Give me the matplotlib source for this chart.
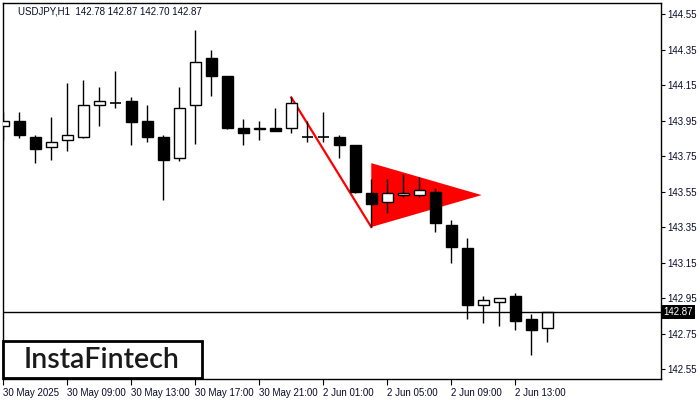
import matplotlib
matplotlib.use("Agg")
import matplotlib.pyplot as plt
from matplotlib.patches import Polygon, Rectangle

# hourly bars, 30 May 05:00 -> 2 Jun 15:00
opens  = [143.92, 143.95, 143.86, 143.80, 143.84, 143.86, 144.04, 144.05, 144.06, 143.95,
          143.86, 143.74, 144.04, 144.30, 144.20, 143.91, 143.90, 143.91, 143.91, 143.86,
          143.86, 143.86, 143.81, 143.54, 143.49, 143.53, 143.53, 143.55, 143.36, 143.23,
          142.91, 142.93, 142.96, 142.83, 142.78]
highs  = [144.00, 144.00, 143.87, 143.97, 144.16, 144.18, 144.14, 144.23, 144.08, 144.04,
          143.87, 144.14, 144.46, 144.35, 144.20, 143.96, 143.95, 144.02, 144.08, 143.95,
          144.00, 143.87, 143.81, 143.62, 143.62, 143.65, 143.63, 143.57, 143.39, 143.29,
          142.96, 142.95, 142.98, 142.86, 142.87]
lows   = [143.84, 143.85, 143.71, 143.73, 143.78, 143.85, 143.92, 144.02, 143.81, 143.83,
          143.50, 143.72, 143.82, 144.09, 143.90, 143.81, 143.84, 143.89, 143.88, 143.83,
          143.83, 143.74, 143.54, 143.35, 143.43, 143.52, 143.52, 143.32, 143.15, 142.83,
          142.81, 142.79, 142.77, 142.63, 142.70]
closes = [143.95, 143.87, 143.79, 143.83, 143.87, 144.04, 144.06, 144.05, 143.94, 143.86,
          143.73, 144.02, 144.28, 144.20, 143.91, 143.88, 143.91, 143.89, 144.05, 143.86,
          143.86, 143.81, 143.55, 143.48, 143.54, 143.54, 143.56, 143.37, 143.24, 142.91,
          142.94, 142.95, 142.82, 142.77, 142.87]

time_ticks = [0, 4, 8, 12, 16, 20, 24, 28, 32]
time_labels = ["30 May 2025", "30 May 09:00", "30 May 13:00", "30 May 17:00", "30 May 21:00",
               "2 Jun 01:00", "2 Jun 05:00", "2 Jun 09:00", "2 Jun 13:00"]
price_ticks = [144.55, 144.35, 144.15, 143.95, 143.75, 143.55, 143.35, 143.15, 142.95, 142.75, 142.55]

# bearish pennant
pole_x = [18, 23]
pole_y = [144.08, 143.35]
flag_x = [23, 23, 29.9]
flag_y = [143.71, 143.35, 143.53]

title = "USDJPY,H1  142.78 142.87 142.70 142.87"
txt_col = "#0a0a2a"
small = dict(family="Liberation Sans", size=7)

fig = plt.figure(figsize=(7, 4), dpi=100)
ax = fig.add_axes([2.5 / 700, 1 - 379.3 / 400, 658.2 / 700, 376.6 / 400])
ax.set_xlim(-0.05, 41.09)
ax.set_ylim(142.492, 144.614)

# pattern first, candles above it
ax.add_patch(Polygon(list(zip(flag_x, flag_y)), closed=True, facecolor="#ff0000",
                     edgecolor="none", zorder=1))
ax.plot(pole_x, pole_y, color="#ff0000", lw=1.6, zorder=1.5)

x = list(range(len(opens)))
ax.vlines(x, lows, highs, color="black", lw=1, zorder=2)
for i in x:
    o, c = opens[i], closes[i]
    fc = "white" if c > o else "black"
    if abs(c - o) < 0.005:
        ax.hlines(o, i - 0.34, i + 0.34, color="black", lw=1.2, zorder=3)
    else:
        ax.add_patch(Rectangle((i - 0.33, min(o, c)), 0.66, abs(c - o), facecolor=fc,
                               edgecolor="black", lw=1, zorder=3))

ax.axhline(closes[-1], color="black", lw=1, zorder=4)

for s in ax.spines.values():
    s.set_color("black")
    s.set_linewidth(1)

ax.yaxis.tick_right()
ax.set_yticks(price_ticks)
ax.set_yticklabels([f"{p:.2f}" for p in price_ticks], fontdict=small)
ax.tick_params(axis="y", direction="out", length=3, width=0.8, pad=2, labelcolor=txt_col)
ax.set_xticks(time_ticks)
ax.set_xticklabels(time_labels, ha="left", fontdict=small)
ax.tick_params(axis="x", direction="out", length=4, width=0.8, pad=2, labelcolor=txt_col)

# current price tag
ax.text(1.004, closes[-1], f"{closes[-1]:.2f}", transform=ax.get_yaxis_transform(),
        ha="left", va="center", color="white", clip_on=False, fontdict=small,
        bbox=dict(boxstyle="square,pad=0.2", facecolor="black", edgecolor="none"))

fig.text(18 / 700, 1 - 11 / 400, title, color=txt_col, va="center", fontdict=small)

# logo
fig.patches.append(Rectangle((3 / 700, 1 - 378.3 / 400), 199 / 700, 37.5 / 400,
                             transform=fig.transFigure, facecolor="white",
                             edgecolor="black", lw=2, zorder=10))
fig.text(102 / 700, 1 - 360 / 400, "InstaFintech", fontsize=20.5, fontfamily="Lato",
         fontweight="semibold", color="#1a1a1a", ha="center", va="center", zorder=11)

fig.savefig("out.png", dpi=100)
